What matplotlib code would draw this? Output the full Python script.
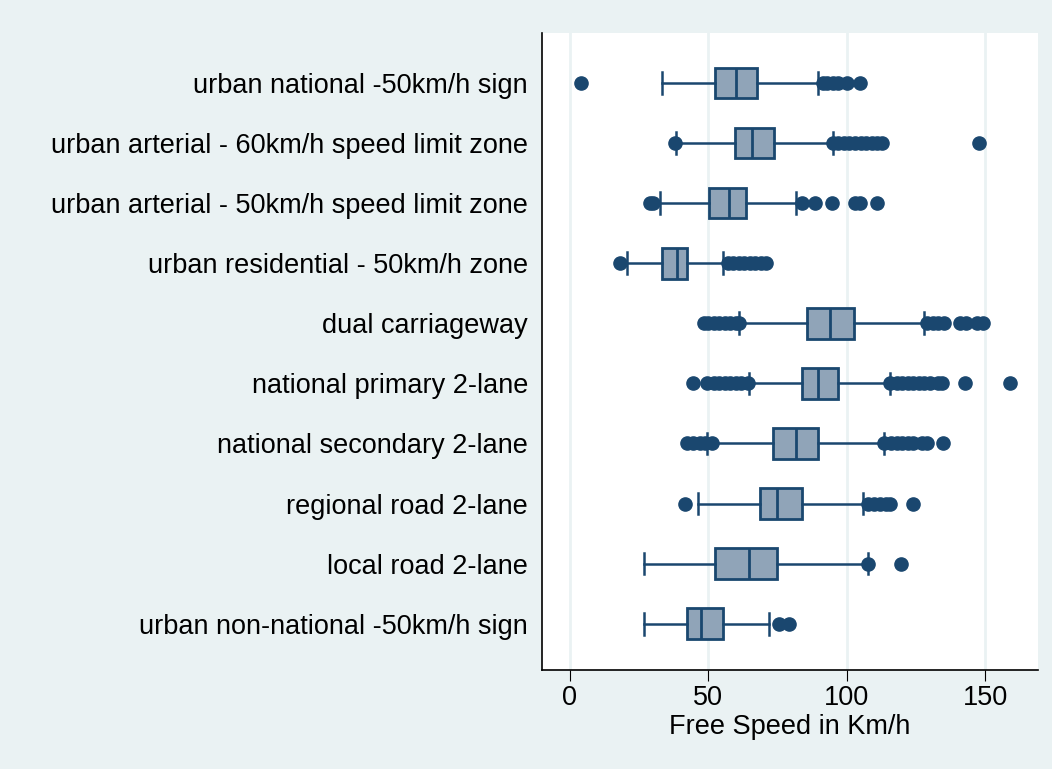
import matplotlib
matplotlib.use('Agg')
import matplotlib.pyplot as plt

plt.rcParams['font.family'] = ['Liberation Sans', 'DejaVu Sans']

navy = '#1a476f'
fill = '#90a4b8'
bg = '#eaf2f3'

labels = [
    'urban national -50km/h sign',
    'urban arterial - 60km/h speed limit zone',
    'urban arterial - 50km/h speed limit zone',
    'urban residential - 50km/h zone',
    'dual carriageway',
    'national primary 2-lane',
    'national secondary 2-lane',
    'regional road 2-lane',
    'local road 2-lane',
    'urban non-national -50km/h sign',
]
whislo = [33.5, 38.5, 32.5, 20.7, 61.0, 64.7, 49.5, 46.5, 26.7, 26.7]
q1 = [52.5, 59.7, 50.5, 33.4, 85.8, 83.8, 73.3, 68.8, 52.5, 42.5]
med = [59.9, 65.9, 57.7, 38.7, 93.8, 89.8, 81.6, 74.8, 64.7, 47.6]
q3 = [67.5, 73.6, 63.6, 42.5, 102.8, 97.0, 89.7, 83.9, 74.8, 55.5]
whishi = [89.8, 95.0, 81.7, 55.5, 127.9, 115.6, 113.6, 106.0, 107.8, 71.8]
fliers = [
    [4.3, 91.6, 93, 95, 97, 100, 104.8],
    [38.1, 95, 97, 99, 101, 103, 105, 107, 109, 111, 112.6, 147.8],
    [29, 30, 83.8, 88.7, 94.8, 103, 104.8, 110.8],
    [18.3, 57.3, 59, 61, 63, 65, 67, 69, 71],
    [48.6, 50, 52, 54, 56, 58, 60, 61,
     128.8, 131, 133, 135, 141, 143, 147, 149.3],
    [44.4, 49.5, 52, 54, 56, 58, 60, 62, 64.5,
     115.6, 118, 120, 122, 124, 126, 128, 130, 133, 134.3, 142.7, 158.9],
    [42.3, 44.7, 47, 49, 51.3, 113.6, 116, 118, 120, 122, 124, 127, 129, 134.9],
    [41.5, 107.8, 110, 112, 114, 115.6, 123.8],
    [107.8, 119.6],
    [75.6, 79],
]

stats = []
for i in range(len(labels)):
    stats.append({'whislo': whislo[i], 'q1': q1[i], 'med': med[i], 'q3': q3[i],
                  'whishi': whishi[i], 'fliers': fliers[i]})

fig = plt.figure(figsize=(10.52, 7.69), dpi=100, facecolor=bg)
ax = fig.add_axes([0.515, 0.1287, 0.4717, 0.8283])
ax.set_facecolor('white')

ax.bxp(stats, positions=range(len(labels)), vert=False, widths=0.51,
       capwidths=0.36, patch_artist=True, showcaps=True,
       boxprops=dict(facecolor=fill, edgecolor=navy, linewidth=2),
       medianprops=dict(color=navy, linewidth=2),
       whiskerprops=dict(color=navy, linewidth=1.8),
       capprops=dict(color=navy, linewidth=1.8),
       flierprops=dict(marker='o', markerfacecolor=navy, markeredgecolor=navy,
                       markersize=9.5, linestyle='none'))

ax.set_xlim(-10, 169)
ax.set_ylim(9.77, -0.83)
ax.set_xticks([0, 50, 100, 150])
ax.set_yticks(range(len(labels)))
ax.set_yticklabels(labels, fontsize=19.5)
ax.tick_params(axis='x', labelsize=19.5, length=8, pad=3, color='black')
ax.tick_params(axis='y', length=0, pad=10)
ax.xaxis.grid(True, color=bg, linewidth=2)
ax.set_axisbelow(True)
ax.set_xlabel('Free Speed in Km/h', fontsize=19.5, labelpad=2)
for s in ['top', 'right']:
    ax.spines[s].set_visible(False)
ax.spines['left'].set_linewidth(1.2)
ax.spines['bottom'].set_linewidth(1.2)

fig.savefig('out.png', dpi=100, facecolor=bg)
